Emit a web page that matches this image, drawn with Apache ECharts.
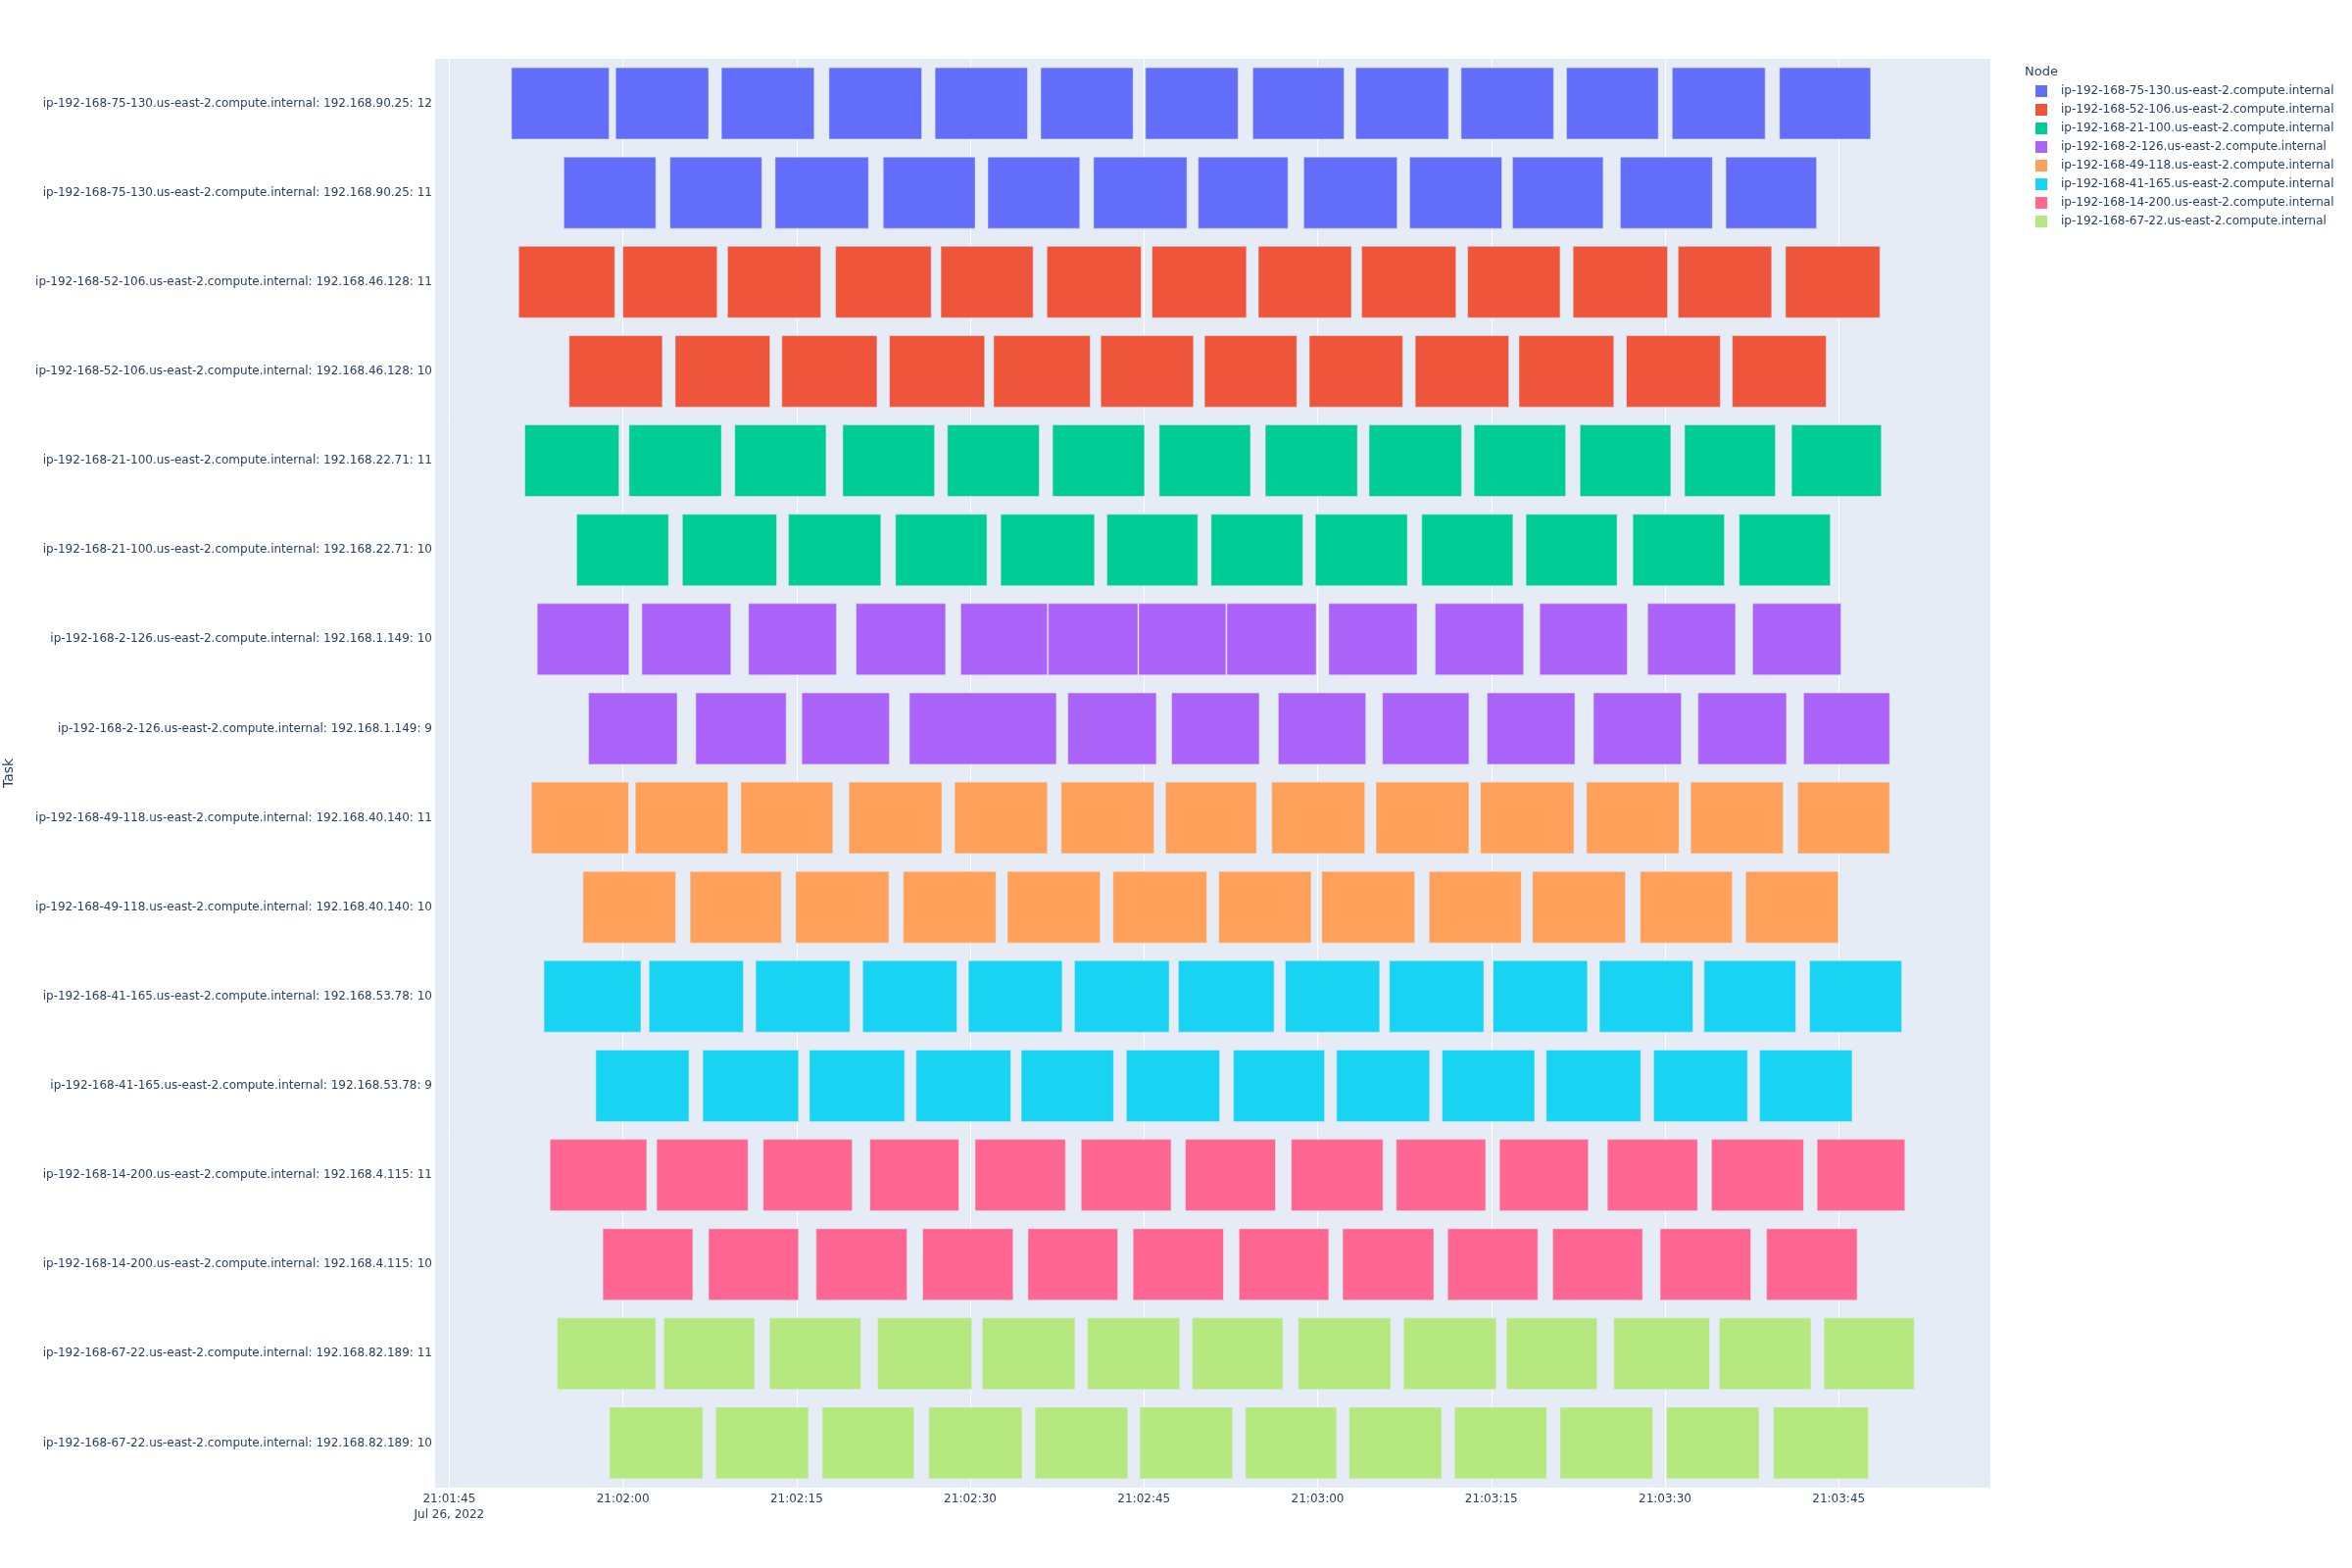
<!DOCTYPE html>
<html>
<head>
<meta charset="utf-8">
<script src="https://cdn.jsdelivr.net/npm/echarts@6/dist/echarts.min.js"></script>
<style>
html,body{margin:0;padding:0;background:#fff;}
#chart{width:2400px;height:1600px;}
</style>
</head>
<body>
<div id="chart"></div>
<script>
// Time values are seconds relative to BASE_CLOCK (21:02:00 on Jul 26, 2022)
const BASE_CLOCK = [21, 2, 0];
const DATE_TEXT = 'Jul 26, 2022';
const AXIS_MIN = -16.3;
const AXIS_MAX = 118.1;
const TICK_STEP = 15;

const nodes = [
  'ip-192-168-75-130.us-east-2.compute.internal',
  'ip-192-168-52-106.us-east-2.compute.internal',
  'ip-192-168-21-100.us-east-2.compute.internal',
  'ip-192-168-2-126.us-east-2.compute.internal',
  'ip-192-168-49-118.us-east-2.compute.internal',
  'ip-192-168-41-165.us-east-2.compute.internal',
  'ip-192-168-14-200.us-east-2.compute.internal',
  'ip-192-168-67-22.us-east-2.compute.internal'
];
const nodeColors = ['#636efa','#EF553B','#00cc96','#ab63fa','#FFA15A','#19d3f3','#FF6692','#B6E880'];

const tasks = [
  'ip-192-168-75-130.us-east-2.compute.internal: 192.168.90.25: 12',
  'ip-192-168-75-130.us-east-2.compute.internal: 192.168.90.25: 11',
  'ip-192-168-52-106.us-east-2.compute.internal: 192.168.46.128: 11',
  'ip-192-168-52-106.us-east-2.compute.internal: 192.168.46.128: 10',
  'ip-192-168-21-100.us-east-2.compute.internal: 192.168.22.71: 11',
  'ip-192-168-21-100.us-east-2.compute.internal: 192.168.22.71: 10',
  'ip-192-168-2-126.us-east-2.compute.internal: 192.168.1.149: 10',
  'ip-192-168-2-126.us-east-2.compute.internal: 192.168.1.149: 9',
  'ip-192-168-49-118.us-east-2.compute.internal: 192.168.40.140: 11',
  'ip-192-168-49-118.us-east-2.compute.internal: 192.168.40.140: 10',
  'ip-192-168-41-165.us-east-2.compute.internal: 192.168.53.78: 10',
  'ip-192-168-41-165.us-east-2.compute.internal: 192.168.53.78: 9',
  'ip-192-168-14-200.us-east-2.compute.internal: 192.168.4.115: 11',
  'ip-192-168-14-200.us-east-2.compute.internal: 192.168.4.115: 10',
  'ip-192-168-67-22.us-east-2.compute.internal: 192.168.82.189: 11',
  'ip-192-168-67-22.us-east-2.compute.internal: 192.168.82.189: 10'
];
const taskNode = [0,0,1,1,2,2,3,3,4,4,5,5,6,6,7,7];

// [start, end] of each run, per task (seconds from 21:02:00)
const spans_75_130_12 = [[-9.62,-1.19],[-0.62,7.40],[8.51,16.52],[17.80,25.81],[26.96,34.94],[36.09,44.06],[45.13,53.13],[54.40,62.28],[63.28,71.31],[72.39,80.38],[81.50,89.42],[90.62,98.65],[99.89,107.76]];
const spans_75_130_11 = [[-5.10,2.84],[4.07,12.00],[13.15,21.21],[22.48,30.42],[31.52,39.46],[40.65,48.71],[49.69,57.44],[58.80,66.87],[67.95,75.91],[76.83,84.66],[86.14,94.09],[95.25,103.09]];
const spans_52_106_11 = [[-9.00,-0.70],[0.00,8.14],[9.04,17.10],[18.37,26.63],[27.46,35.43],[36.62,44.76],[45.70,53.85],[54.88,62.92],[63.80,71.95],[72.95,80.94],[82.06,90.22],[91.13,99.21],[100.41,108.56]];
const spans_52_106_10 = [[-4.64,3.41],[4.52,12.70],[13.73,21.95],[23.02,31.24],[32.02,40.36],[41.27,49.28],[50.23,58.20],[59.28,67.35],[68.43,76.51],[77.39,85.58],[86.66,94.77],[95.81,103.92]];
const spans_21_100_11 = [[-8.47,-0.33],[0.53,8.51],[9.66,17.55],[18.99,26.92],[28.03,35.96],[37.11,45.05],[46.32,54.20],[55.48,63.44],[64.44,72.43],[73.51,81.42],[82.66,90.50],[91.69,99.53],[100.93,108.68]];
const spans_21_100_10 = [[-3.99,3.95],[5.14,13.28],[14.30,22.28],[23.55,31.44],[32.63,40.73],[41.80,49.65],[50.80,58.72],[59.80,67.75],[68.99,76.87],[77.99,85.86],[87.22,95.13],[96.41,104.28]];
const spans_2_126_10 = [[-7.40,0.53],[1.64,9.33],[10.85,18.45],[20.14,27.87],[29.18,36.66],[36.74,44.47],[44.55,52.08],[52.16,59.88],[60.96,68.59],[70.15,77.79],[79.18,86.74],[88.50,96.09],[97.57,105.20]];
const spans_2_126_9 = [[-2.96,4.69],[6.29,14.10],[15.45,23.02],[24.74,37.44],[38.43,46.07],[47.39,54.96],[56.60,64.16],[65.60,73.07],[74.63,82.22],[83.82,91.41],[92.85,100.49],[101.97,109.40]];
const spans_49_118_11 = [[-7.89,0.49],[1.07,9.08],[10.19,18.13],[19.52,27.54],[28.65,36.66],[37.85,45.87],[46.86,54.72],[56.04,64.08],[65.04,73.07],[74.07,82.14],[83.22,91.21],[92.21,100.21],[101.45,109.40]];
const spans_49_118_10 = [[-3.45,4.56],[5.80,13.69],[14.92,22.98],[24.21,32.22],[33.21,41.22],[42.33,50.43],[51.46,59.44],[60.36,68.39],[69.63,77.59],[78.55,86.58],[87.86,95.81],[96.97,104.96]];
const spans_41_165_10 = [[-6.82,1.56],[2.26,10.40],[11.47,19.61],[20.71,28.85],[29.84,37.94],[39.00,47.18],[47.97,56.24],[57.20,65.36],[66.20,74.35],[75.15,83.30],[84.34,92.41],[93.37,101.29],[102.49,110.44]];
const spans_41_165_9 = [[-2.34,5.71],[6.90,15.17],[16.11,24.33],[25.32,33.50],[34.40,42.38],[43.48,51.54],[52.73,60.60],[61.64,69.67],[70.75,78.74],[79.74,87.90],[89.02,97.13],[98.17,106.16]];
const spans_14_200_11 = [[-6.29,2.06],[2.92,10.81],[12.12,19.81],[21.33,29.02],[30.42,38.22],[39.58,47.35],[48.58,56.36],[57.72,65.64],[66.79,74.51],[75.71,83.38],[85.02,92.81],[94.01,101.97],[103.13,110.72]];
const spans_14_200_10 = [[-1.73,6.04],[7.40,15.17],[16.69,24.54],[25.89,33.70],[34.98,42.74],[44.06,51.87],[53.21,60.96],[62.16,70.03],[71.23,79.02],[80.30,88.06],[89.58,97.41],[98.77,106.60]];
const spans_67_22_11 = [[-5.67,2.84],[3.53,11.38],[12.66,20.55],[21.99,30.13],[31.03,39.05],[40.11,48.09],[49.16,57.00],[58.32,66.31],[67.43,75.43],[76.31,84.14],[85.58,93.85],[94.69,102.61],[103.73,111.52]];
const spans_67_22_10 = [[-1.15,6.90],[8.01,16.03],[17.22,25.15],[26.43,34.48],[35.59,43.61],[44.64,52.65],[53.76,61.64],[62.72,70.71],[71.83,79.78],[80.94,88.94],[90.14,98.13],[99.37,107.56]];

const taskSpans = [
  spans_75_130_12, spans_75_130_11, spans_52_106_11, spans_52_106_10,
  spans_21_100_11, spans_21_100_10, spans_2_126_10, spans_2_126_9,
  spans_49_118_11, spans_49_118_10, spans_41_165_10, spans_41_165_9,
  spans_14_200_11, spans_14_200_10, spans_67_22_11, spans_67_22_10
];

const FONT = 'DejaVu Sans';
const TEXT_COLOR = '#2a3f5f';

function pad2(n){ return (n < 10 ? '0' : '') + n; }
function clockLabel(v){
  const r = Math.round(v);
  if (Math.abs(v - r) > 1e-6 || r % TICK_STEP !== 0) return '';
  let t = BASE_CLOCK[0]*3600 + BASE_CLOCK[1]*60 + BASE_CLOCK[2] + r;
  const h = Math.floor(t/3600); t -= h*3600;
  const m = Math.floor(t/60); const s = t - m*60;
  let txt = pad2(h) + ':' + pad2(m) + ':' + pad2(s);
  const firstTick = Math.ceil(AXIS_MIN / TICK_STEP) * TICK_STEP;
  if (r === firstTick) txt += '\n' + DATE_TEXT;
  return txt;
}

const series = nodes.map(function(node, ni){
  const data = [];
  taskNode.forEach(function(n, ti){
    if (n !== ni) return;
    taskSpans[ti].forEach(function(sp){ data.push([ti, sp[0], sp[1]]); });
  });
  return {
    name: node,
    type: 'custom',
    itemStyle: { color: nodeColors[ni] },
    encode: { x: [1, 2], y: 0 },
    renderItem: function(params, api){
      const cat = api.value(0);
      const p0 = api.coord([api.value(1), cat]);
      const p1 = api.coord([api.value(2), cat]);
      const h = api.size([0, 1])[1] * 0.8;
      return {
        type: 'rect',
        shape: { x: p0[0], y: p0[1] - h/2, width: p1[0] - p0[0], height: h },
        style: { fill: api.visual('color'), stroke: '#E5ECF6', lineWidth: 0.5 }
      };
    },
    data: data
  };
});

const chart = echarts.init(document.getElementById('chart'), null, { renderer: 'canvas' });
chart.setOption({
  animation: false,
  backgroundColor: '#ffffff',
  textStyle: { fontFamily: FONT },
  title: {
    text: 'Node', left: 2066, top: 67, padding: 0,
    textStyle: { fontFamily: FONT, fontSize: 13, fontWeight: 'normal', color: TEXT_COLOR }
  },
  legend: {
    orient: 'vertical', left: 2077, top: 87, padding: 0,
    itemWidth: 12, itemHeight: 12, itemGap: 7, icon: 'rect',
    textStyle: { fontFamily: FONT, fontSize: 12, color: TEXT_COLOR, lineHeight: 12, padding: [0, 0, 0, 9] },
    data: nodes
  },
  grid: {
    left: 443, right: 369, top: 60, bottom: 82,
    outerBoundsMode: 'none', containLabel: false,
    show: true, backgroundColor: '#E5ECF6', borderWidth: 0
  },
  xAxis: {
    type: 'value', min: AXIS_MIN, max: AXIS_MAX,
    minInterval: TICK_STEP, maxInterval: TICK_STEP, splitNumber: 9,
    axisLine: { show: false }, axisTick: { show: false },
    splitLine: { show: true, lineStyle: { color: '#ffffff', width: 1 } },
    axisLabel: {
      showMinLabel: false, showMaxLabel: false,
      formatter: clockLabel, margin: 4,
      fontFamily: FONT, fontSize: 12, color: TEXT_COLOR, lineHeight: 16
    }
  },
  yAxis: {
    type: 'category', inverse: true, data: tasks,
    axisLine: { show: false }, axisTick: { show: false },
    splitLine: { show: false },
    axisLabel: { margin: 2, fontFamily: FONT, fontSize: 12, color: TEXT_COLOR },
    name: 'Task', nameLocation: 'middle', nameGap: 427, nameRotate: 90,
    nameTextStyle: { fontFamily: FONT, fontSize: 14, color: TEXT_COLOR }
  },
  series: series
});
</script>
</body>
</html>
